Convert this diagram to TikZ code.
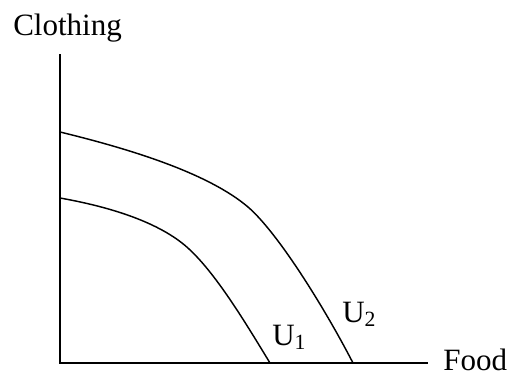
\documentclass[tikz,border=0pt]{standalone}
\usepackage{fontspec}
\setmainfont{Liberation Serif}
\usetikzlibrary{positioning}
\tikzset{
  ax/.style={black,line width=1.4pt},
  kurve/.style={black,line width=1.1pt,line join=round},
  lbl/.style={inner sep=0pt,anchor=base west,font=\fontsize{23.4}{28}\selectfont},
}
\begin{document}
\begin{tikzpicture}[x=0.0265cm,y=-0.0265cm]
  \useasboundingbox (0,0) rectangle (512,375);
  \coordinate (o) at (60,363);
  \coordinate (ytop) at (60,54);
  \coordinate (xend) at (428,363);
  \draw[ax] (ytop)--(o)--(xend);
  \node[lbl] (clothing) at (13,35) {Clothing};
  \node[lbl] (food) at (443,370) {Food};
  % indifference curves
  \draw[kurve] (60,198) .. controls (105,206) and (152,219.6) .. (182,243)
    .. controls (212,266.4) and (245,322) .. (270,363);
  \draw[kurve] (60,132) .. controls (130,149) and (208,173) .. (248,207)
    .. controls (278,232.8) and (325,308.7) .. (353,363);
  \node[lbl] (u1) at (272,345) {U\textsubscript{1}};
  \node[lbl] (u2) at (342,322) {U\textsubscript{2}};
\end{tikzpicture}
\end{document}
